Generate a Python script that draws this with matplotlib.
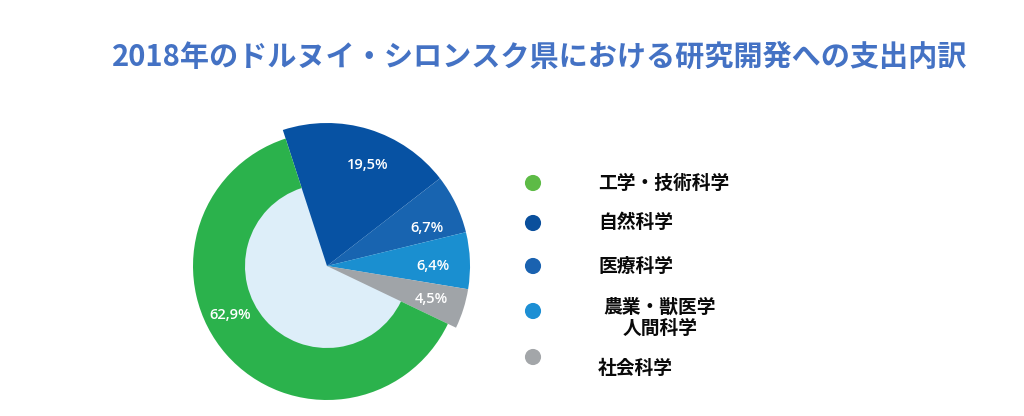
import numpy as np
import matplotlib.pyplot as plt

plt.rcParams['font.family'] = ['Noto Sans CJK JP', 'DejaVu Sans']

# Data (shares of R&D spending, %)
categories = ['自然科学', '医療科学', '農業・獣医学\n人間科学', '社会科学', '工学・技術科学']
shares = [19.5, 6.7, 6.4, 4.5, 62.9]
share_labels = ['19,5%', '6,7%', '6,4%', '4,5%', '62,9%']
wedge_colors = ['#0752a3', '#1864b0', '#1a8fd0', '#a0a4a8', '#2bb24c']

legend_order = ['工学・技術科学', '自然科学', '医療科学', '農業・獣医学\n人間科学', '社会科学']
legend_colors = ['#5dbb46', '#0a4f9c', '#1a62b0', '#1d8fd4', '#a3a6a9']

W, H = 1024, 416
fig = plt.figure(figsize=(W / 100, H / 100), dpi=100)
ax = fig.add_axes([0, 0, 1, 1])

cx, cy = 327, H - 266
r_out = 143
r_green = 134
r_hole = 82

# hole behind everything
ax.add_patch(plt.Circle((cx, cy), r_hole, color='#ddeef9', zorder=0))

wedges, _ = ax.pie(shares, colors=wedge_colors, startangle=108, counterclock=False,
                   radius=r_out, center=(cx, cy), wedgeprops=dict(linewidth=0))
# green share is drawn as a ring
wedges[-1].set_radius(r_green)
wedges[-1].set_width(r_green - r_hole)
for w in wedges:
    w.set_zorder(1)

# label placement: radius and optional angle override
label_r = [109, 107, 106, 109, 109]
label_ang = [68, 21, 0, None, 207]
for w, txt, rr, ang in zip(wedges, share_labels, label_r, label_ang):
    a = (w.theta1 + w.theta2) / 2 if ang is None else ang
    x = cx + rr * np.cos(np.radians(a))
    y = cy + rr * np.sin(np.radians(a))
    ax.text(x, y, txt, color='white', fontsize=10.5, fontfamily='Open Sans',
            fontweight='semibold', ha='center', va='center', zorder=3)

# legend
leg_y = [183, 223, 266, 311, 357]
txt_y = [183, 223, 266, 318, 369]
for name, col, ly, ty in zip(legend_order, legend_colors, leg_y, txt_y):
    ax.scatter(533, H - ly, s=135, color=col, edgecolors='none', zorder=3)
    if '\n' in name:
        ax.text(660, H - ty, name, fontsize=13.5, fontweight='bold', color='#0a0a0a',
                ha='center', va='center', multialignment='center', linespacing=1.15)
    else:
        ax.text(598, H - ty, name, fontsize=13.5, fontweight='bold', color='#0a0a0a',
                ha='left', va='center')

ax.text(540, H - 57, '2018年のドルヌイ・シロンスク県における研究開発への支出内訳',
        fontsize=21, fontweight='bold', color='#4472c4', ha='center', va='center')

ax.set_xlim(0, W)
ax.set_ylim(0, H)
ax.set_aspect('equal')
ax.axis('off')

fig.savefig('out.png', dpi=100, facecolor='white')
